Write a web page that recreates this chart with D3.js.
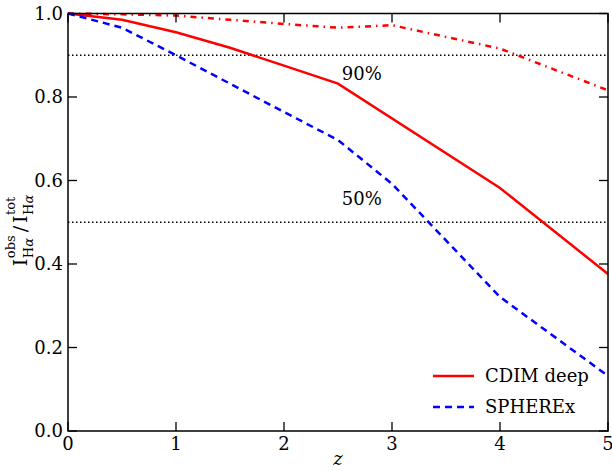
<!DOCTYPE html>
<html><head><meta charset="utf-8">
<script src="https://cdn.jsdelivr.net/npm/d3@7"></script>
<style>body{margin:0;background:#fff}svg{display:block}</style>
</head><body><svg id="c" width="612" height="471" font-family="DejaVu Serif, Liberation Serif, serif"></svg>
<script>
const cdimZ = [0, 0.5, 1, 1.5, 2, 2.5, 4, 5];
const cdimV = [1.0, 0.985, 0.955, 0.918, 0.875, 0.832, 0.582, 0.376];
const spherexZ = [0, 0.5, 1, 1.5, 2, 2.5, 3, 4, 5];
const spherexV = [1.0, 0.966, 0.9, 0.832, 0.764, 0.697, 0.592, 0.321, 0.132];
const cdimWideZ = [0, 0.5, 1, 1.5, 2, 2.5, 3, 4, 5];
const cdimWideV = [1.0, 0.998, 0.995, 0.985, 0.975, 0.966, 0.972, 0.916, 0.816];
const refLevels = [0.9, 0.5];
const refLabels = ["90%", "50%"];
const xTicks = [0, 1, 2, 3, 4, 5];
const yTicks = [0.0, 0.2, 0.4, 0.6, 0.8, 1.0];
const legendNames = ["CDIM deep", "SPHEREx"];

const svg = d3.select("#c");
const L = 68, R = 608, T = 13.5, B = 431;
const x = d3.scaleLinear().domain([0, 5]).range([L, R]);
const y = d3.scaleLinear().domain([0, 1]).range([B, T]);
const fs = 18;

// reference lines
const labOff = [25, -17];
refLevels.forEach((v, i) => {
  svg.append("line").attr("x1", L).attr("x2", R).attr("y1", y(v)).attr("y2", y(v))
    .attr("stroke", "#000").attr("stroke-width", 1.5).attr("stroke-dasharray", "1.5,2.5");
  svg.append("text").attr("x", x(2.72)).attr("y", y(v) + labOff[i]).attr("text-anchor", "middle")
    .attr("font-size", fs).text(refLabels[i]);
});

const line = d3.line().x(d => x(d[0])).y(d => y(d[1]));
const g = svg.append("g");
g.append("path").datum(d3.zip(cdimWideZ, cdimWideV)).attr("d", line).attr("fill", "none")
  .attr("stroke", "#ff0000").attr("stroke-width", 2.5).attr("stroke-dasharray", "6,5,1.5,5");
g.append("path").datum(d3.zip(cdimZ, cdimV)).attr("d", line).attr("fill", "none")
  .attr("stroke", "#ff0000").attr("stroke-width", 2.5);
g.append("path").datum(d3.zip(spherexZ, spherexV)).attr("d", line).attr("fill", "none")
  .attr("stroke", "#0000ff").attr("stroke-width", 2.5).attr("stroke-dasharray", "7,5");

// axes
const ax = svg.append("g");
ax.append("rect").attr("x", L).attr("y", T).attr("width", R - L).attr("height", B - T)
  .attr("fill", "none").attr("stroke", "#000").attr("stroke-width", 1.5);
const tl = 9;
xTicks.forEach(t => {
  ax.append("line").attr("x1", x(t)).attr("x2", x(t)).attr("y1", B).attr("y2", B - tl).attr("stroke", "#000").attr("stroke-width", 1.3);
  ax.append("line").attr("x1", x(t)).attr("x2", x(t)).attr("y1", T).attr("y2", T + tl).attr("stroke", "#000").attr("stroke-width", 1.3);
  ax.append("text").attr("x", x(t)).attr("y", B + 19).attr("text-anchor", "middle").attr("font-size", fs).text(d3.format("d")(t));
});
yTicks.forEach(t => {
  ax.append("line").attr("x1", L).attr("x2", L + tl).attr("y1", y(t)).attr("y2", y(t)).attr("stroke", "#000").attr("stroke-width", 1.3);
  ax.append("line").attr("x1", R).attr("x2", R - tl).attr("y1", y(t)).attr("y2", y(t)).attr("stroke", "#000").attr("stroke-width", 1.3);
  ax.append("text").attr("x", L - 5).attr("y", y(t) + 6).attr("text-anchor", "end").attr("font-size", fs).text(d3.format(".1f")(t));
});

// x label
svg.append("text").attr("x", x(2.5)).attr("y", 465).attr("text-anchor", "middle")
  .attr("font-size", fs).attr("font-style", "italic").text("z");

// y label (rotated, with stacked super/subscripts)
const yl = svg.append("g").attr("transform", "translate(27,229) rotate(-90)");
let cx = 0;
function add(txt, size, dy) {
  return yl.append("text").attr("x", cx).attr("y", dy).attr("font-size", size).text(txt);
}
function stacked(sup) {
  const a = add(sup, 13, -12), b = add("H", 13, 6);
  b.append("tspan").attr("font-style", "italic").text("α");
  const w = Math.max(a.node().getComputedTextLength(), b.node().getComputedTextLength());
  cx += w + 3;
}
let t1 = add("I", 19, 0); cx += t1.node().getComputedTextLength() + 0.5;
stacked("obs");
let t2 = add("/", 19, 0); cx += t2.node().getComputedTextLength() + 3;
let t3 = add("I", 19, 0); cx += t3.node().getComputedTextLength() + 0.5;
stacked("tot");
const totalW = cx;
yl.selectAll("text").attr("x", function() { return +d3.select(this).attr("x") - totalW / 2; });

// legend
const legY = [376, 407];
const legStyles = [{c: "#ff0000", d: null}, {c: "#0000ff", d: "7,5"}];
legendNames.forEach((n, i) => {
  svg.append("line").attr("x1", 433).attr("x2", 474).attr("y1", legY[i]).attr("y2", legY[i])
    .attr("stroke", legStyles[i].c).attr("stroke-width", 2.5).attr("stroke-dasharray", legStyles[i].d);
  svg.append("text").attr("x", 485).attr("y", legY[i] + 6).attr("font-size", fs).text(n);
});
</script></body></html>
